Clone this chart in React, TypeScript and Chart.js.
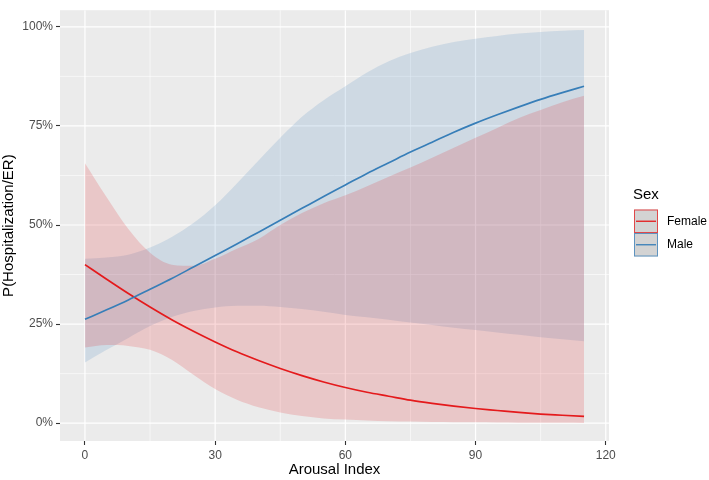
import React, { useEffect, useRef } from "react";
import { Chart, registerables } from "chart.js";

Chart.register(...registerables);

// Arousal index grid on which the fitted curves and their bands are evaluated
const arousal = [0, 5, 10, 15, 20, 25, 30, 35, 40, 45, 50, 55, 60, 65, 70, 75, 80, 85, 90, 95, 100, 105, 110, 115];

// Predicted probability (%) of hospitalization / ER visit
const femaleFit = [40.0, 36.3, 32.7, 29.3, 26.1, 23.2, 20.5, 18.0, 15.8, 13.8, 12.0, 10.4, 9.0, 7.8, 6.8, 5.8, 5.0, 4.3, 3.7, 3.2, 2.7, 2.3, 2.0, 1.7];
const femaleLower = [19.1, 19.7, 19.5, 18.5, 16.0, 12.2, 8.6, 5.9, 4.0, 2.7, 1.8, 1.2, 0.9, 0.7, 0.5, 0.4, 0.3, 0.25, 0.2, 0.15, 0.12, 0.1, 0.08, 0.06];
const femaleUpper = [65.6, 57.0, 49.0, 43.0, 40.0, 39.7, 41.5, 44.0, 46.5, 50.0, 53.0, 55.5, 57.5, 59.8, 62.2, 64.5, 67.0, 69.5, 72.0, 74.5, 77.0, 79.0, 81.0, 82.6];

const maleFit = [26.2, 28.6, 31.1, 33.8, 36.5, 39.4, 42.3, 45.2, 48.2, 51.2, 54.2, 57.2, 60.1, 63.0, 65.7, 68.4, 70.9, 73.4, 75.7, 77.8, 79.8, 81.7, 83.4, 85.0];
const maleLower = [15.3, 18.5, 21.5, 24.5, 26.8, 28.3, 29.2, 29.6, 29.6, 29.3, 28.8, 28.1, 27.3, 26.7, 26.1, 25.4, 24.8, 24.1, 23.5, 22.9, 22.3, 21.7, 21.2, 20.7];
const maleUpper = [41.5, 41.8, 42.5, 44.3, 47.0, 50.5, 55.0, 60.5, 66.3, 72.0, 77.3, 81.5, 85.0, 88.5, 91.3, 93.4, 95.0, 96.2, 97.0, 97.7, 98.3, 98.7, 99.0, 99.2];

// Axis breaks
const xMajor = [0, 30, 60, 90, 120];
const xMinor = [15, 45, 75, 105];
const yMajor = [0, 25, 50, 75, 100];
const yMinor = [12.5, 37.5, 62.5, 87.5];

const legendTitle = "Sex";
const groups = ["Female", "Male"];

const RED = "#e41a1c";
const BLUE = "#377eb8";
const FONT = "'Liberation Sans', Arial, sans-serif";

const pts = (ys: number[]) => arousal.map((x, i) => ({ x, y: ys[i] }));

const panelPlugin = {
  id: "panel",
  beforeDraw(chart: any) {
    const { ctx, chartArea: a, scales } = chart;
    const xs = scales.x;
    const ys = scales.y;
    ctx.save();
    ctx.fillStyle = "#ebebeb";
    ctx.fillRect(a.left, a.top, a.right - a.left, a.bottom - a.top);
    ctx.beginPath();
    ctx.rect(a.left, a.top, a.right - a.left, a.bottom - a.top);
    ctx.clip();
    ctx.strokeStyle = "#ffffff";
    const vline = (v: number, w: number) => {
      const p = xs.getPixelForValue(v);
      ctx.lineWidth = w;
      ctx.beginPath();
      ctx.moveTo(p, a.top);
      ctx.lineTo(p, a.bottom);
      ctx.stroke();
    };
    const hline = (v: number, w: number) => {
      const p = ys.getPixelForValue(v);
      ctx.lineWidth = w;
      ctx.beginPath();
      ctx.moveTo(a.left, p);
      ctx.lineTo(a.right, p);
      ctx.stroke();
    };
    xMinor.forEach((v) => vline(v, 0.6));
    yMinor.forEach((v) => hline(v, 0.6));
    xMajor.forEach((v) => vline(v, 1.2));
    yMajor.forEach((v) => hline(v, 1.2));
    ctx.restore();
  },
  afterDraw(chart: any) {
    const { ctx, chartArea: a } = chart;
    ctx.save();
    ctx.fillStyle = "#000000";
    ctx.font = `15px ${FONT}`;
    ctx.textAlign = "center";
    ctx.textBaseline = "middle";
    ctx.fillText("Arousal Index", (a.left + a.right) / 2, 470);
    ctx.save();
    ctx.translate(9, (a.top + a.bottom) / 2);
    ctx.rotate(-Math.PI / 2);
    ctx.fillText("P(Hospitalization/ER)", 0, 0);
    ctx.restore();

    // legend
    ctx.textAlign = "left";
    ctx.font = `15px ${FONT}`;
    ctx.fillText(legendTitle, 633, 195);
    const colors = [RED, BLUE];
    const keyX = 634;
    const keyW = 24;
    const keyH = 23.5;
    ctx.font = `12px ${FONT}`;
    groups.forEach((g, i) => {
      const top = 209.5 + i * keyH;
      ctx.fillStyle = "#d3d3d3";
      ctx.fillRect(keyX, top, keyW, keyH);
      ctx.strokeStyle = colors[i];
      ctx.globalAlpha = 0.75;
      ctx.lineWidth = 1;
      ctx.strokeRect(keyX + 0.5, top + 0.5, keyW - 1, keyH - 1);
      ctx.globalAlpha = 1;
      ctx.lineWidth = 1.3;
      ctx.beginPath();
      ctx.moveTo(keyX + 2, top + keyH / 2);
      ctx.lineTo(keyX + keyW - 2, top + keyH / 2);
      ctx.stroke();
      ctx.fillStyle = "#000000";
      ctx.fillText(g, 667, top + keyH / 2);
    });
    ctx.restore();
  },
};

export default function App() {
  const ref = useRef<HTMLCanvasElement | null>(null);

  useEffect(() => {
    document.body.style.margin = "0";
    if (!ref.current) return;
    const band = (data: number[], color: string, fill: any) => ({
      type: "line" as const,
      data: pts(data),
      borderWidth: 0,
      borderColor: "rgba(0,0,0,0)",
      backgroundColor: color,
      pointRadius: 0,
      fill,
      cubicInterpolationMode: "monotone" as const,
    });
    const line = (data: number[], color: string) => ({
      type: "line" as const,
      data: pts(data),
      borderWidth: 1.7,
      borderColor: color,
      backgroundColor: color,
      pointRadius: 0,
      fill: false,
      cubicInterpolationMode: "monotone" as const,
    });
    const chart = new Chart(ref.current, {
      type: "line",
      data: {
        datasets: [
          band(femaleUpper, "rgba(228,26,28,0.17)", 1),
          band(femaleLower, "rgba(0,0,0,0)", false),
          band(maleUpper, "rgba(55,126,184,0.16)", 3),
          band(maleLower, "rgba(0,0,0,0)", false),
          line(maleFit, BLUE),
          line(femaleFit, RED),
        ] as any,
      },
      options: {
        animation: false,
        responsive: false,
        layout: { padding: { top: 2, right: 100, left: 0, bottom: 0 } },
        plugins: {
          legend: { display: false },
          tooltip: { enabled: false },
          filler: { drawTime: "beforeDatasetsDraw" },
        } as any,
        scales: {
          x: {
            type: "linear",
            min: -5.75,
            max: 120.75,
            offset: false,
            afterBuildTicks: (s: any) => {
              s.ticks = xMajor.map((v) => ({ value: v }));
            },
            afterFit: (s: any) => {
              s.height = 39;
            },
            grid: { drawOnChartArea: false, tickLength: 4, tickColor: "#333333", tickWidth: 1.1 },
            border: { display: false },
            ticks: {
              color: "#4d4d4d",
              font: { family: FONT, size: 12 },
              padding: 3,
              maxRotation: 0,
              callback: (v: any) => String(v),
            },
          },
          y: {
            type: "linear",
            min: -4.5,
            max: 104.2,
            afterBuildTicks: (s: any) => {
              s.ticks = yMajor.map((v) => ({ value: v }));
            },
            afterFit: (s: any) => {
              s.width = 60;
            },
            grid: { drawOnChartArea: false, tickLength: 4, tickColor: "#333333", tickWidth: 1.1 },
            border: { display: false },
            ticks: {
              color: "#4d4d4d",
              font: { family: FONT, size: 12 },
              padding: 3,
              callback: (v: any) => `${v}%`,
            },
          },
        },
      } as any,
      plugins: [panelPlugin],
    });
    return () => chart.destroy();
  }, []);

  return (
    <div style={{ width: 709, height: 480, background: "#ffffff" }}>
      <canvas ref={ref} width={709} height={480} />
    </div>
  );
}
